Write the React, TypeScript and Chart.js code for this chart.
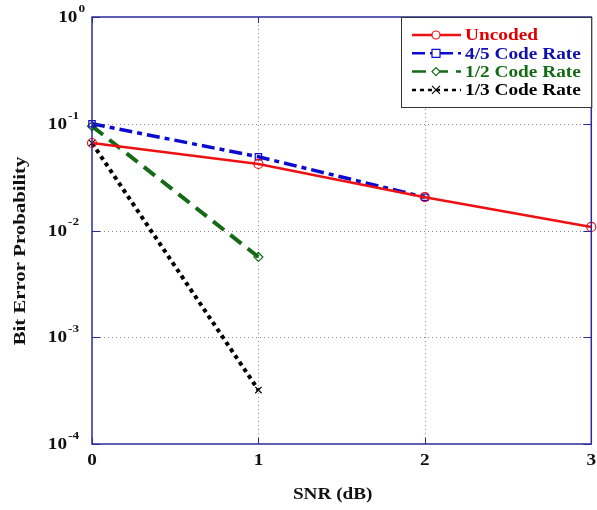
import React, { useEffect, useRef } from "react";
import { Chart, registerables } from "chart.js";

Chart.register(...registerables);

const snr = [0, 1, 2, 3];
const uncoded = [0.066, 0.042, 0.0205, 0.0108];
const rate45 = [0.1, 0.049, 0.0205];
const rate12 = [0.095, 0.00565];
const rate13 = [0.066, 0.00032];
const xTicks = [0, 1, 2, 3];
const yExponents = [0, -1, -2, -3, -4];
const seriesLabels = ["Uncoded", "4/5 Code Rate", "1/2 Code Rate", "1/3 Code Rate"];
const xTitle = "SNR (dB)";
const yTitle = "Bit Error Probability";

const FONT = '"Liberation Serif", "DejaVu Serif", serif';
const AXIS_COLOR = "#2a2a9a";
const SX = 1.2;

const toPts = (ys: number[]) => ys.map((y, i) => ({ x: snr[i], y }));

const fillStretched = (ctx: CanvasRenderingContext2D, text: string, x: number, y: number, align: "left" | "right" | "center", sx: number) => {
  ctx.save();
  ctx.translate(x, y);
  ctx.scale(sx, 1);
  ctx.textAlign = align;
  ctx.fillText(text, 0, 0);
  ctx.restore();
};

const drawMarker = (ctx: CanvasRenderingContext2D, style: string, x: number, y: number, r: number, color: string) => {
  ctx.save();
  ctx.strokeStyle = color;
  ctx.lineWidth = 1.2;
  ctx.setLineDash([]);
  ctx.fillStyle = "white";
  ctx.beginPath();
  if (style === "circle") {
    ctx.arc(x, y, r, 0, Math.PI * 2);
    ctx.fill();
    ctx.stroke();
  } else if (style === "rect") {
    ctx.rect(x - r, y - r, 2 * r, 2 * r);
    ctx.fill();
    ctx.stroke();
  } else if (style === "rectRot") {
    ctx.moveTo(x, y - r);
    ctx.lineTo(x + r, y);
    ctx.lineTo(x, y + r);
    ctx.lineTo(x - r, y);
    ctx.closePath();
    ctx.fill();
    ctx.stroke();
  } else {
    ctx.moveTo(x - r, y - r);
    ctx.lineTo(x + r, y + r);
    ctx.moveTo(x + r, y - r);
    ctx.lineTo(x - r, y + r);
    ctx.stroke();
  }
  ctx.restore();
};

const customPlugin = {
  id: "matlabStyle",
  beforeDatasetsDraw(chart: any) {
    const { ctx, chartArea: a, scales } = chart;
    ctx.save();
    ctx.strokeStyle = "#8a8a8a";
    ctx.lineWidth = 1;
    ctx.setLineDash([1, 3]);
    xTicks.slice(1, -1).forEach((v) => {
      const px = Math.round(scales.x.getPixelForValue(v)) + 0.5;
      ctx.beginPath();
      ctx.moveTo(px, a.top);
      ctx.lineTo(px, a.bottom);
      ctx.stroke();
    });
    yExponents.slice(1, -1).forEach((e) => {
      const py = Math.round(scales.y.getPixelForValue(Math.pow(10, e))) + 0.5;
      ctx.beginPath();
      ctx.moveTo(a.left, py);
      ctx.lineTo(a.right, py);
      ctx.stroke();
    });
    ctx.restore();
  },
  afterDraw(chart: any) {
    const { ctx, chartArea: a, scales } = chart;
    ctx.save();
    // axes box
    ctx.strokeStyle = AXIS_COLOR;
    ctx.lineWidth = 1.5;
    ctx.setLineDash([]);
    ctx.strokeRect(a.left, a.top, a.right - a.left, a.bottom - a.top);
    // ticks
    ctx.lineWidth = 1;
    xTicks.forEach((v) => {
      const px = Math.round(scales.x.getPixelForValue(v)) + 0.5;
      ctx.beginPath();
      ctx.moveTo(px, a.bottom);
      ctx.lineTo(px, a.bottom - 6);
      ctx.moveTo(px, a.top);
      ctx.lineTo(px, a.top + 6);
      ctx.stroke();
    });
    yExponents.forEach((e) => {
      const py = Math.round(scales.y.getPixelForValue(Math.pow(10, e))) + 0.5;
      ctx.beginPath();
      ctx.moveTo(a.left, py);
      ctx.lineTo(a.left + 8, py);
      ctx.moveTo(a.right, py);
      ctx.lineTo(a.right - 8, py);
      ctx.stroke();
    });
    // tick labels
    ctx.fillStyle = "#111";
    ctx.font = `bold 16px ${FONT}`;
    ctx.textBaseline = "middle";
    xTicks.forEach((v) => {
      fillStretched(ctx, String(v), scales.x.getPixelForValue(v), a.bottom + 17, "center", SX);
    });
    yExponents.forEach((e) => {
      const py = scales.y.getPixelForValue(Math.pow(10, e));
      const exp = String(e);
      ctx.font = `bold 11px ${FONT}`;
      const ew = ctx.measureText(exp).width * SX;
      const right = e === 0 ? a.left - 7 : a.left - 13;
      const expX = right - ew;
      fillStretched(ctx, exp, expX, py - 8, "left", SX);
      ctx.font = `bold 16px ${FONT}`;
      fillStretched(ctx, "10", expX - 1, py + 1, "right", SX);
    });
    // axis titles
    ctx.font = `bold 16px ${FONT}`;
    fillStretched(ctx, xTitle, a.left + (a.right - a.left) * 0.482, a.bottom + 51, "center", SX);
    ctx.save();
    ctx.translate(21, 251);
    ctx.rotate(-Math.PI / 2);
    fillStretched(ctx, yTitle, 0, 0, "center", 1.3);
    ctx.restore();
    // legend
    const lx = 401, ly = 17, lw = a.right - 401, lh = 90;
    ctx.fillStyle = "white";
    ctx.fillRect(lx, ly, lw, lh);
    ctx.strokeStyle = "#333";
    ctx.lineWidth = 1;
    ctx.strokeRect(lx + 0.5, ly + 0.5, lw, lh);
    chart.data.datasets.forEach((ds: any, i: number) => {
      const yy = ly + 18 + i * 18.3;
      ctx.save();
      ctx.strokeStyle = ds.borderColor;
      ctx.lineWidth = Math.min(ds.borderWidth, 2.5);
      ctx.setLineDash(ds.borderDash || []);
      ctx.beginPath();
      ctx.moveTo(412, yy);
      ctx.lineTo(461, yy);
      ctx.stroke();
      ctx.restore();
      drawMarker(ctx, ds.pointStyle, 436, yy, 4, ds.borderColor);
      ctx.fillStyle = ds.textColor;
      ctx.font = `bold 16.5px ${FONT}`;
      fillStretched(ctx, ds.label, 465, yy + 1, "left", 1.17);
    });
    ctx.restore();
  },
};

export default function App() {
  const ref = useRef<HTMLCanvasElement | null>(null);
  useEffect(() => {
    if (!ref.current) return;
    const mk = (label: string, data: number[], color: string, text: string, dash: number[], width: number, style: string) => ({
      label,
      data: toPts(data),
      borderColor: color,
      textColor: text,
      borderWidth: width,
      borderDash: dash,
      pointStyle: style,
      pointRadius: 4.5,
      pointBorderWidth: 1.2,
      pointBackgroundColor: "rgba(255,255,255,0)",
      pointBorderColor: color,
      fill: false,
      tension: 0,
      clip: false as any,
    });
    const chart = new Chart(ref.current, {
      type: "line",
      data: {
        datasets: [
          mk(seriesLabels[0], uncoded, "#ee1111", "#e00000", [], 2.5, "circle"),
          mk(seriesLabels[1], rate45, "#0a0ad0", "#1010b0", [13, 5, 5, 5], 3.5, "rect"),
          mk(seriesLabels[2], rate12, "#156b15", "#156b15", [14, 8], 4, "rectRot"),
          mk(seriesLabels[3], rate13, "#000000", "#000000", [4, 4], 4, "crossRot"),
        ] as any,
      },
      options: {
        responsive: false,
        animation: false,
        layout: { padding: { left: 92, right: 4, top: 17, bottom: 66 } },
        plugins: { legend: { display: false }, tooltip: { enabled: false } },
        scales: {
          x: { type: "linear", min: 0, max: 3, display: false },
          y: { type: "logarithmic", min: 1e-4, max: 1, display: false },
        },
      },
      plugins: [customPlugin],
    });
    return () => chart.destroy();
  }, []);
  return (
    <div style={{ position: "absolute", left: 0, top: 0, width: 597, height: 510, background: "white" }}>
      <canvas ref={ref} width={597} height={510} />
    </div>
  );
}
